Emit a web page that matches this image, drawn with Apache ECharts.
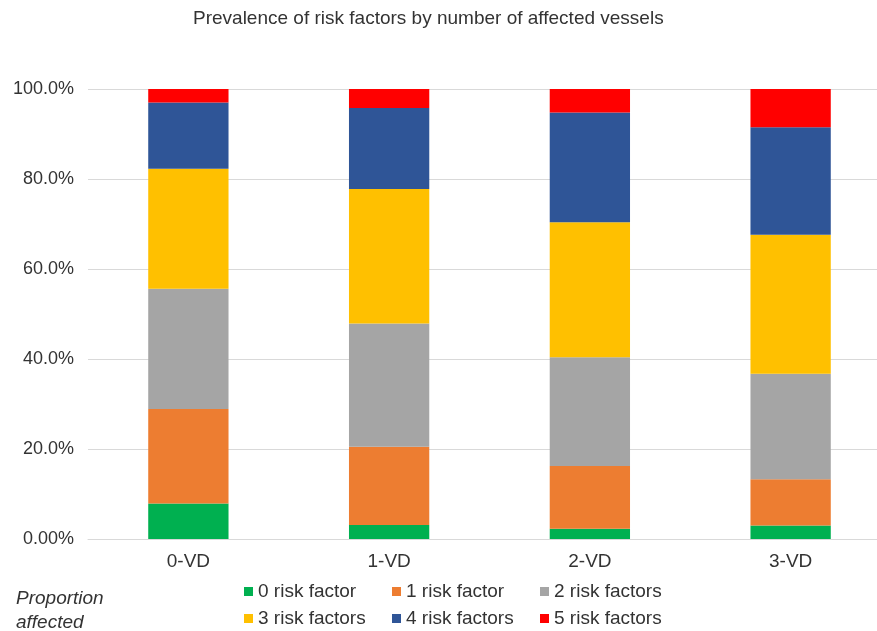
<!DOCTYPE html>
<html>
<head>
<meta charset="utf-8">
<script src="https://cdn.jsdelivr.net/npm/echarts@6/dist/echarts.min.js"></script>
<style>
  html, body { margin: 0; padding: 0; background: #fff; }
  #chart { width: 877px; height: 631px; }
</style>
</head>
<body>
<div id="chart"></div>
<script>
// Vessel-disease groups on the x axis
const categories = ['0-VD', '1-VD', '2-VD', '3-VD'];

// Share of patients (%) in each group, by number of risk factors
const riskFactor0 = [7.9, 3.1, 2.3, 3.0];
const riskFactor1 = [21.0, 17.4, 13.9, 10.3];
const riskFactor2 = [26.7, 27.4, 24.2, 23.4];
const riskFactor3 = [26.7, 29.9, 30.0, 30.9];
const riskFactor4 = [14.7, 18.0, 24.4, 23.9];
const riskFactor5 = [3.0, 4.2, 5.2, 8.5];

const seriesNames = ['0 risk factor', '1 risk factor', '2 risk factors',
                     '3 risk factors', '4 risk factors', '5 risk factors'];
const seriesData = [riskFactor0, riskFactor1, riskFactor2, riskFactor3, riskFactor4, riskFactor5];
const seriesColors = ['#00b050', '#ed7d31', '#a5a5a5', '#ffc000', '#2f5597', '#ff0000'];

const yTicks = [0, 20, 40, 60, 80, 100];

const FONT = '"Liberation Sans", Arial, Helvetica, sans-serif';
const TEXT = '#333333';

const chart = echarts.init(document.getElementById('chart'), null, { renderer: 'canvas' });

chart.setOption({
  backgroundColor: '#ffffff',
  animation: false,
  textStyle: { fontFamily: FONT },
  title: [
    {
      text: 'Prevalence of risk factors by number of affected vessels',
      left: 193,
      top: 9,
      padding: 0,
      textStyle: { fontSize: 19, fontWeight: 'normal', color: TEXT, fontFamily: FONT }
    },
    {
      text: 'Proportion\naffected',
      left: 16,
      top: 587,
      padding: 0,
      textStyle: { fontSize: 19, fontWeight: 'normal', fontStyle: 'italic', color: TEXT,
                   fontFamily: FONT, lineHeight: 24 }
    }
  ],
  legend: {
    data: seriesNames,
    left: 244,
    top: 582,
    width: 450,
    padding: 0,
    itemWidth: 9,
    itemHeight: 9,
    itemGap: 8,
    icon: 'rect',
    formatter: name => '{t|' + name + '}',
    textStyle: {
      color: TEXT, fontFamily: FONT, fontSize: 19,
      rich: { t: { width: 126, height: 18, lineHeight: 18, fontSize: 19, color: TEXT, fontFamily: FONT } }
    }
  },
  // the plot runs past the right edge of the canvas, so the last band is cut off
  grid: { left: 88, right: -14, top: 89, bottom: 92, containLabel: false, outerBoundsMode: 'none' },
  xAxis: {
    type: 'category',
    data: categories,
    axisLine: { show: true, lineStyle: { color: '#d9d9d9', width: 1 } },
    axisTick: { show: false },
    axisLabel: { fontSize: 19, color: TEXT, margin: 13, fontFamily: FONT }
  },
  yAxis: {
    type: 'value',
    min: yTicks[0],
    max: yTicks[yTicks.length - 1],
    interval: 20,
    axisLine: { show: false },
    axisTick: { show: false },
    splitLine: { lineStyle: { color: '#d9d9d9', width: 1 } },
    axisLabel: {
      fontSize: 18, color: TEXT, margin: 14, fontFamily: FONT,
      formatter: v => (v === 0 ? '0.00%' : v.toFixed(1) + '%')
    }
  },
  series: seriesNames.map((name, i) => ({
    name,
    type: 'bar',
    stack: 'total',
    barWidth: '40%',
    data: seriesData[i],
    itemStyle: { color: seriesColors[i] }
  }))
});
</script>
</body>
</html>
